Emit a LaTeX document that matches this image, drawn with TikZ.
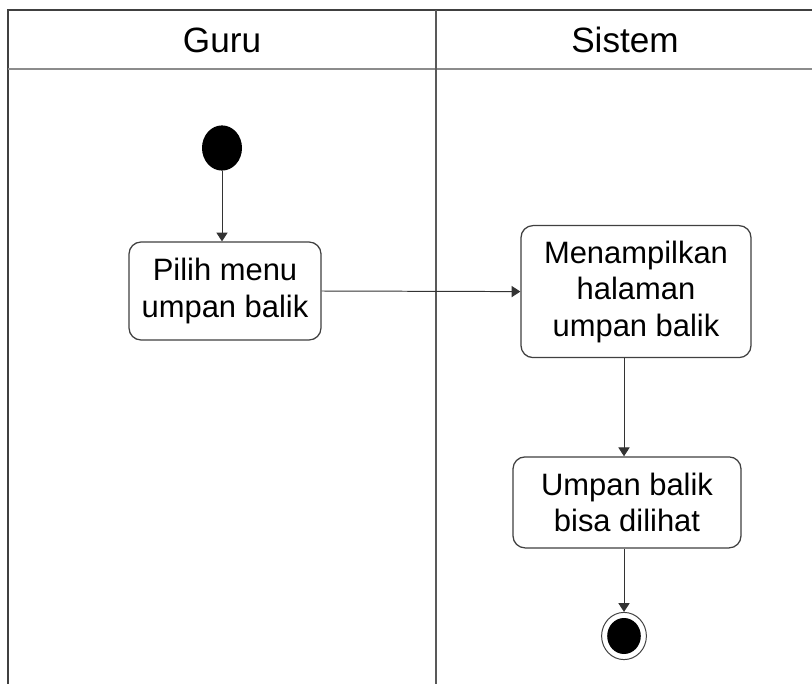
\documentclass[tikz,border=0pt]{standalone}
\usepackage{fontspec}
\setmainfont{Liberation Sans}
\usetikzlibrary{arrows.meta,shapes.geometric}

\begin{document}
\begin{tikzpicture}[
act/.style={draw=black!75,line width=0.9pt,rounded corners=0.3cm,align=center,inner sep=0pt,font=\fontsize{22}{26}\selectfont},
lane/.style={font=\fontsize{25}{30}\selectfont},
flow/.style={draw=black!80,line width=0.7pt,-{Triangle[width=0.28cm,length=0.22cm]}},
]
\useasboundingbox (0,0) rectangle (20.3,-17.1);
\fill[white] (0,0) rectangle (20.3,-17.1);

\draw[draw=black!75,line width=1.4pt] (0.2,-17.1) -- (0.2,-0.25) -- (20.3,-0.25);
\draw[draw=black!45,line width=1.2pt] (0.2,-1.725) -- (20.3,-1.725);
\draw[draw=black!65,line width=0.9pt] (10.9,-0.25) -- (10.9,-17.1);
\node[lane] (guru) at (5.55,-1.0) {Guru};
\node[lane] (sistem) at (15.625,-1.0) {Sistem};

\node[ellipse,fill=black,minimum width=1.0cm,minimum height=1.13cm,inner sep=0pt] (start) at (5.55,-3.7) {};
\node[act,minimum width=4.8cm,minimum height=2.45cm] (pilih) at (5.625,-7.275) {Pilih menu\\umpan balik};
\node[act,minimum width=5.75cm,minimum height=3.3cm] (tampil) at (15.9,-7.29) {Menampilkan\\halaman\\umpan balik};
\node[act,minimum width=5.7cm,minimum height=2.275cm] (lihat) at (15.675,-12.56) {Umpan balik\\bisa dilihat};
\node[ellipse,draw=black!75,line width=0.7pt,fill=white,minimum width=1.12cm,minimum height=1.18cm,inner sep=0pt] (end) at (15.6,-15.9) {};
\node[ellipse,fill=black,minimum width=0.84cm,minimum height=0.9cm,inner sep=0pt] (enddot) at (end) {};

\draw[flow] (start) -- (start |- pilih.north);
\draw[flow] (pilih.east) -- (tampil.west);
\draw[flow] (tampil.south -| end) -- (lihat.north -| end);
\draw[flow] (lihat.south -| end) -- (end);
\end{tikzpicture}
\end{document}
